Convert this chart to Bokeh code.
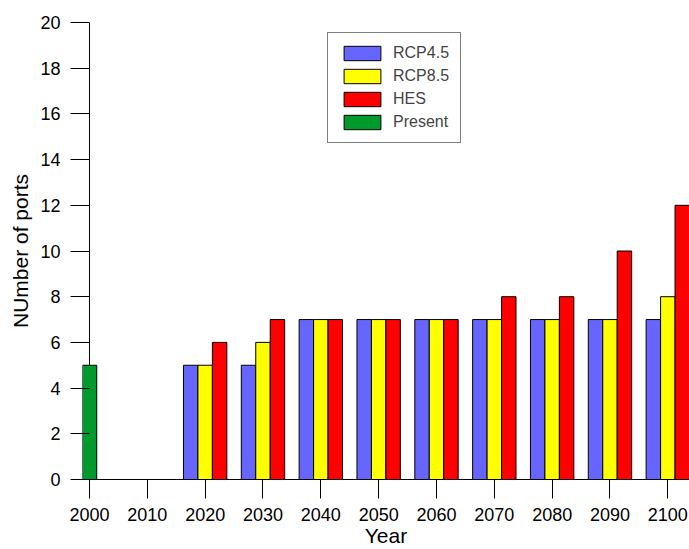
from bokeh.plotting import figure
from bokeh.models import FixedTicker, Span, Legend, LegendItem, ColumnDataSource, Range1d
from bokeh.transform import dodge
from bokeh.embed import file_html
from bokeh.resources import INLINE

# ---- data ----
years = [2020, 2030, 2040, 2050, 2060, 2070, 2080, 2090, 2100]
rcp45 = [5, 5, 7, 7, 7, 7, 7, 7, 7]
rcp85 = [5, 6, 7, 7, 7, 7, 7, 7, 8]
hes = [6, 7, 7, 7, 7, 8, 8, 10, 12]
present_years = [2000]
present = [5]
x_ticks = [2000, 2010, 2020, 2030, 2040, 2050, 2060, 2070, 2080, 2090, 2100]
y_ticks = [0, 2, 4, 6, 8, 10, 12, 14, 16, 18, 20]

FONT = "Liberation Sans"
BAR_W = 2.5

src = ColumnDataSource(dict(year=years, rcp45=rcp45, rcp85=rcp85, hes=hes))
src_p = ColumnDataSource(dict(year=present_years, present=present))

p = figure(width=689, height=549, output_backend="svg", toolbar_location=None,
           x_range=Range1d(1998.79, 2103.75), y_range=Range1d(0, 20),
           min_border_left=82, min_border_right=0, min_border_top=22, min_border_bottom=70)
p.outline_line_color = None
p.xgrid.grid_line_color = None
p.ygrid.grid_line_color = None

# y axis line at x=2000 (under the bars)
p.add_layout(Span(location=2000, dimension="height", line_color="black", line_width=1, level="underlay"))

r1 = p.vbar(x=dodge("year", -BAR_W, range=p.x_range), top="rcp45", width=BAR_W, source=src,
            fill_color="#6666FF", line_color="black", line_width=1)
r2 = p.vbar(x="year", top="rcp85", width=BAR_W, source=src,
            fill_color="#FFFF00", line_color="black", line_width=1)
r3 = p.vbar(x=dodge("year", BAR_W, range=p.x_range), top="hes", width=BAR_W, source=src,
            fill_color="#FF0000", line_color="black", line_width=1)
r4 = p.vbar(x="year", top="present", width=BAR_W, source=src_p,
            fill_color="#00992B", line_color="black", line_width=1)

legend = Legend(items=[LegendItem(label="RCP4.5", renderers=[r1]),
                       LegendItem(label="RCP8.5", renderers=[r2]),
                       LegendItem(label="HES", renderers=[r3]),
                       LegendItem(label="Present", renderers=[r4])],
                location=(245, 336), glyph_width=46, glyph_height=18, label_height=18,
                spacing=5, padding=11, margin=0, label_standoff=8,
                label_text_font=FONT, label_text_font_size="16px",
                border_line_color="black", border_line_width=1,
                background_fill_color="white", background_fill_alpha=1.0)
p.add_layout(legend, "center")

# x axis
xa = p.xaxis[0]
xa.ticker = FixedTicker(ticks=x_ticks)
xa.major_tick_out = 19
xa.major_tick_in = 0
xa.minor_tick_line_color = None
xa.axis_line_color = "black"
xa.major_tick_line_color = "black"
xa.major_label_standoff = 9
xa.major_label_text_font = FONT
xa.major_label_text_font_size = "18px"
xa.major_label_text_color = "black"
xa.axis_label = "Year"
xa.axis_label_standoff = 0
xa.axis_label_text_font = FONT
xa.axis_label_text_font_size = "21px"
xa.axis_label_text_line_height = 0.8
xa.axis_label_text_font_style = "normal"
xa.axis_label_text_color = "black"

# y axis
ya = p.yaxis[0]
ya.ticker = FixedTicker(ticks=y_ticks)
ya.major_tick_out = 12
ya.major_tick_in = 7
ya.minor_tick_line_color = None
ya.axis_line_color = None
ya.major_tick_line_color = "black"
ya.major_label_standoff = 10
ya.major_label_text_font = FONT
ya.major_label_text_font_size = "18px"
ya.major_label_text_color = "black"
ya.axis_label = "NUmber of ports"
ya.axis_label_standoff = 5
ya.axis_label_text_font = FONT
ya.axis_label_text_font_size = "21px"
ya.axis_label_text_font_style = "normal"
ya.axis_label_text_color = "black"

open("out.html", "w").write(file_html(p, INLINE))
